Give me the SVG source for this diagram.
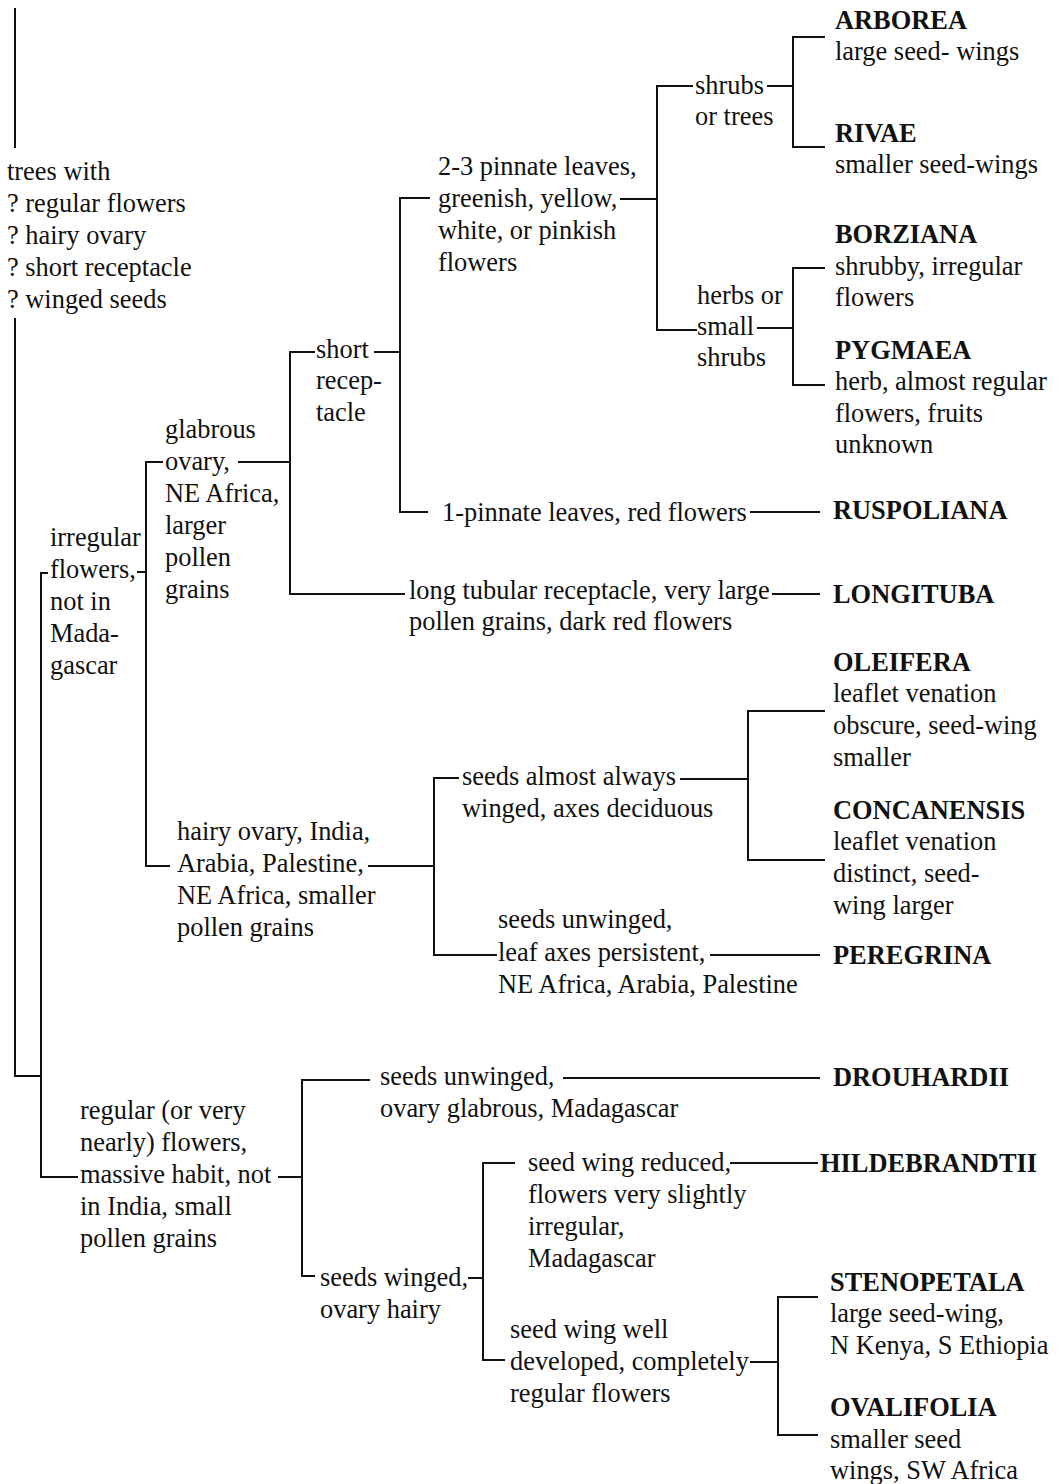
<svg xmlns="http://www.w3.org/2000/svg" width="1062" height="1484" viewBox="0 0 1062 1484">
<style>
text{font-family:"Liberation Serif","Times New Roman",serif;font-size:26.4px;fill:#111}
.b{font-weight:bold}
.c path{fill:none;stroke:#111;stroke-width:2}
</style>
<rect width="1062" height="1484" fill="#fff"/>
<g class="c" id="connectors">
<path d="M15,8 V148"/>
<path d="M15,318 V1076 H41"/>
<path d="M48,573 H41 V1177 H78"/>
<path d="M137,572 H146"/>
<path d="M163,462 H146 V866 H170"/>
<path d="M238,462 H290"/>
<path d="M315,352 H290 V594 H405"/>
<path d="M374,352 H400"/>
<path d="M430,198 H400 V512 H428"/>
<path d="M620,199 H657"/>
<path d="M693,86 H657 V330 H697"/>
<path d="M767,86 H793"/>
<path d="M825,37 H793 V147 H825"/>
<path d="M757,328 H793"/>
<path d="M825,268 H793 V385 H825"/>
<path d="M750,512 H820"/>
<path d="M772,594 H820"/>
<path d="M368,866 H434"/>
<path d="M459,778 H434 V955 H497"/>
<path d="M680,779 H748"/>
<path d="M825,711 H748 V860 H825"/>
<path d="M710,955 H820"/>
<path d="M278,1177 H302"/>
<path d="M370,1080 H302 V1276 H315"/>
<path d="M563,1078 H820"/>
<path d="M468,1278 H483"/>
<path d="M515,1163 H483 V1360 H505"/>
<path d="M730,1163 H818"/>
<path d="M750,1362 H778"/>
<path d="M818,1297 H778 V1435 H818"/>
</g>
<g id="root"><text x="7" y="180">trees with</text><text x="7" y="212">? regular flowers</text><text x="7" y="244">? hairy ovary</text><text x="7" y="276">? short receptacle</text><text x="7" y="308">? winged seeds</text></g>
<g id="irregular"><text x="50" y="546">irregular</text><text x="50" y="578">flowers,</text><text x="50" y="610">not in</text><text x="50" y="642">Mada-</text><text x="50" y="674">gascar</text></g>
<g id="glabrous"><text x="165" y="438">glabrous</text><text x="165" y="470">ovary,</text><text x="165" y="502">NE Africa,</text><text x="165" y="534">larger</text><text x="165" y="566">pollen</text><text x="165" y="598">grains</text></g>
<g id="short"><text x="316" y="358">short</text><text x="316" y="389">recep-</text><text x="316" y="421">tacle</text></g>
<g id="pinnate23"><text x="438" y="175">2-3 pinnate leaves,</text><text x="438" y="207">greenish, yellow,</text><text x="438" y="239">white, or pinkish</text><text x="438" y="271">flowers</text></g>
<g id="shrubs"><text x="695" y="94">shrubs</text><text x="695" y="125">or trees</text></g>
<g id="herbs"><text x="697" y="304">herbs or</text><text x="697" y="335">small</text><text x="697" y="366">shrubs</text></g>
<g id="arborea"><text class="b" x="835" y="29">ARBOREA</text><text x="835" y="60">large seed- wings</text></g>
<g id="rivae"><text class="b" x="835" y="142">RIVAE</text><text x="835" y="173">smaller seed-wings</text></g>
<g id="borziana"><text class="b" x="835" y="243">BORZIANA</text><text x="835" y="275">shrubby, irregular</text><text x="835" y="306">flowers</text></g>
<g id="pygmaea"><text class="b" x="835" y="359">PYGMAEA</text><text x="835" y="390">herb, almost regular</text><text x="835" y="422">flowers, fruits</text><text x="835" y="453">unknown</text></g>
<g id="pinnate1"><text x="442" y="521">1-pinnate leaves, red flowers</text></g>
<g id="ruspoliana"><text class="b" x="833" y="519">RUSPOLIANA</text></g>
<g id="longtube"><text x="409" y="599">long tubular receptacle, very large</text><text x="409" y="630">pollen grains, dark red flowers</text></g>
<g id="longituba"><text class="b" x="833" y="603">LONGITUBA</text></g>
<g id="oleifera"><text class="b" x="833" y="671">OLEIFERA</text><text x="833" y="702">leaflet venation</text><text x="833" y="734">obscure, seed-wing</text><text x="833" y="766">smaller</text></g>
<g id="concanensis"><text class="b" x="833" y="819">CONCANENSIS</text><text x="833" y="850">leaflet venation</text><text x="833" y="882">distinct, seed-</text><text x="833" y="914">wing larger</text></g>
<g id="winged"><text x="462" y="785">seeds almost always</text><text x="462" y="817">winged, axes deciduous</text></g>
<g id="hairy"><text x="177" y="840">hairy ovary, India,</text><text x="177" y="872">Arabia, Palestine,</text><text x="177" y="904">NE Africa, smaller</text><text x="177" y="936">pollen grains</text></g>
<g id="unwinged1"><text x="498" y="928">seeds unwinged,</text><text x="498" y="961">leaf axes persistent,</text><text x="498" y="993">NE Africa, Arabia, Palestine</text></g>
<g id="peregrina"><text class="b" x="833" y="964">PEREGRINA</text></g>
<g id="regular"><text x="80" y="1119">regular (or very</text><text x="80" y="1151">nearly) flowers,</text><text x="80" y="1183">massive habit, not</text><text x="80" y="1215">in India, small</text><text x="80" y="1247">pollen grains</text></g>
<g id="unwinged2"><text x="380" y="1085">seeds unwinged,</text><text x="380" y="1117">ovary glabrous, Madagascar</text></g>
<g id="drouhardii"><text class="b" x="833" y="1086">DROUHARDII</text></g>
<g id="wingedhairy"><text x="320" y="1286">seeds winged,</text><text x="320" y="1318">ovary hairy</text></g>
<g id="reduced"><text x="528" y="1171">seed wing reduced,</text><text x="528" y="1203">flowers very slightly</text><text x="528" y="1235">irregular,</text><text x="528" y="1267">Madagascar</text></g>
<g id="hildebrandtii"><text class="b" x="820" y="1172">HILDEBRANDTII</text></g>
<g id="welldev"><text x="510" y="1338">seed wing well</text><text x="510" y="1370">developed, completely</text><text x="510" y="1402">regular flowers</text></g>
<g id="stenopetala"><text class="b" x="830" y="1291">STENOPETALA</text><text x="830" y="1322">large seed-wing,</text><text x="830" y="1354">N Kenya, S Ethiopia</text></g>
<g id="ovalifolia"><text class="b" x="830" y="1416">OVALIFOLIA</text><text x="830" y="1448">smaller seed</text><text x="830" y="1479">wings, SW Africa</text></g>
</svg>
